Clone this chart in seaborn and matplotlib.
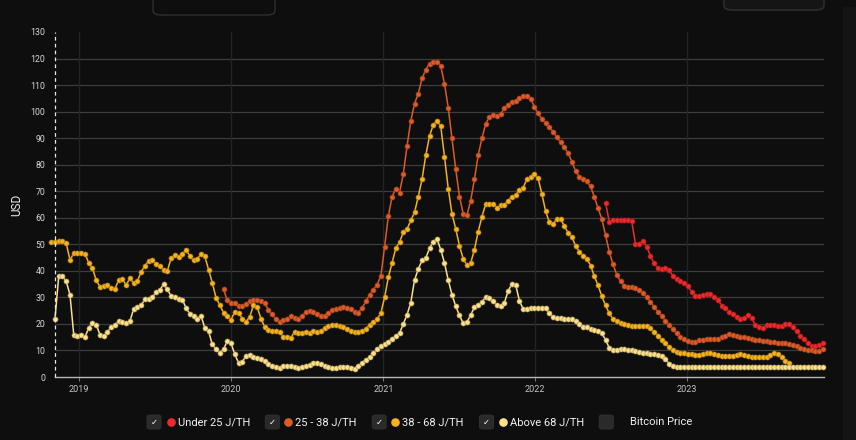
import matplotlib
matplotlib.use("Agg")
import matplotlib.pyplot as plt
from matplotlib.patches import FancyBboxPatch, Rectangle
from matplotlib.lines import Line2D
import numpy as np
import pandas as pd
import seaborn as sns

# weekly-ish samples (every 9 days)
dates = pd.date_range("2018-10-26", periods=207, freq="9D")

series_names = ["Under 25 J/TH", "25 - 38 J/TH", "38 - 68 J/TH", "Above 68 J/TH"]
series_colors = ["#ec2a2c", "#dd5b28", "#f4b21f", "#fde08a"]
series_edges = ["#8e1618", "#86361a", "#946a12", "#9a8752"]

# index into `dates` where each series starts
start_under_25 = 148
start_25_38 = 46
start_38_68 = 0
start_above_68 = 1

under_25 = [
    65.7, 58.5, 59, 59.2, 59.2, 59.2, 59.2, 58.6, 50.2, 50,
    51.4, 49, 45.7, 42.8, 41, 40.7, 41.2, 40.3, 38, 36.8,
    36.2, 35.4, 34.2, 32, 30.7, 30.5, 31, 31.4, 31.3, 30.3,
    29.1, 26.9, 25.9, 24.5, 23.8, 22.6, 22, 22.2, 23.4, 22.2,
    19.6, 19, 18.4, 19.6, 19.6, 19.6, 19.4, 19.1, 19.8, 19.9,
    18.8, 17.3, 15.6, 14.2, 12.9, 11.7, 11.7, 12.1, 12.7,
]

j_25_38 = [
    33, 29, 27.8, 27.8, 26.8, 26.6, 27.5, 28.6, 29.2, 29,
    28.5, 27.8, 25.3, 23.6, 21.8, 20.8, 21.3, 22, 22.9, 22.1,
    22, 22.9, 24.5, 25, 24.5, 23.6, 22.8, 22.9, 24.1, 25.1,
    25.7, 26.1, 26.3, 26, 25.6, 24.6, 24.3, 26, 28.5, 30.9,
    32.9, 34.8, 38, 49, 60.5, 68, 71, 69.5, 76.5, 87,
    96.5, 103, 106.8, 112.5, 115.8, 118.1, 118.8, 118.7, 117.2, 110.5,
    101.5, 90, 78.3, 68, 61.5, 61, 66.5, 74.5, 83.6, 90,
    95.4, 98, 98.9, 98.5, 99.2, 101.2, 102.6, 103.5, 104, 105,
    105.7, 105.9, 104.9, 101.8, 99.3, 97.2, 95.8, 94.1, 92.4, 90.4,
    88.5, 86.5, 84.4, 81.2, 77.6, 75.5, 74.7, 73.7, 71.8, 68,
    63.6, 59.6, 53.5, 47.2, 42.4, 38.6, 36, 34.4, 33.8, 33.8,
    33.5, 32.8, 31.7, 30.2, 28.3, 26.3, 24.6, 23.1, 21.2, 19.7,
    18, 16.4, 15.2, 14.2, 13.4, 13.1, 13.3, 13.9, 14.1, 14.2,
    14.2, 14.2, 14.5, 15, 15.6, 16.1, 15.7, 15.4, 15.1, 15,
    14.8, 14.5, 14.1, 13.9, 13.7, 13.5, 13.3, 13.1, 12.9, 12.9,
    12.7, 12.4, 11.9, 11.5, 11, 10.4, 10.2, 10, 9.9, 9.9, 10.4,
]

j_38_68 = [
    51, 51, 51.2, 51.4, 50.4, 44.1, 46.6, 46.8, 46.6, 46.5,
    43, 41, 36.5, 34, 34.2, 34.5, 33.7, 33.2, 36.5, 36.8,
    34.7, 37.2, 35.4, 36.2, 39.5, 42, 43.6, 44, 42.5, 41.8,
    40.5, 40, 44.7, 46, 45.3, 46.2, 48, 45.5, 44, 44.5,
    46.3, 45.5, 40.5, 35.5, 29.8, 27.1, 24.3, 22.8, 21.6, 24.5,
    24.3, 22, 20.8, 22.7, 27, 26.2, 22, 18.8, 17.6, 17.4,
    17.2, 16.8, 15.2, 15.2, 14.8, 17.1, 16.6, 16.5, 16.8, 16.5,
    17.3, 16.8, 17.2, 18.5, 19.3, 19.6, 19.6, 19.2, 18.8, 18.2,
    17.5, 16.9, 17, 17.4, 18.2, 19.6, 20.6, 21.8, 24, 30,
    37.5, 43, 48.5, 50.8, 54.5, 55.7, 59, 62, 68, 74.5,
    83.5, 90.8, 95, 96.5, 94.5, 83, 71, 61.5, 55.8, 49.5,
    44.5, 42.2, 43, 48, 54.8, 60.4, 65.2, 65.3, 65, 63.8,
    64.8, 64.8, 66.5, 67.8, 68.5, 70.5, 71.3, 74.5, 75.5, 76.5,
    74.8, 69, 62.5, 58.3, 57.6, 59.6, 59.4, 57, 54.3, 52.8,
    49.5, 47.2, 45.7, 44.6, 42, 38, 34.5, 30.5, 27, 24,
    21.8, 21, 20.3, 20, 19.6, 19.3, 19.2, 19.2, 19.2, 19.1,
    18.4, 17.1, 15.6, 14, 12.7, 11.4, 10.2, 9.6, 9.1, 8.9,
    8.7, 8.5, 8.4, 8.3, 8.6, 9, 9.1, 8.7, 8.3, 8,
    8, 8, 8, 8.3, 8.6, 8.4, 8, 7.7, 7.5, 7.4,
    7.4, 7.6, 8.3, 9.2, 8.6, 7.5, 6.2, 5.2,
]

above_68 = [
    22, 38, 38, 36, 31, 16, 15.5, 16, 15, 18.5,
    20.5, 19.7, 16, 15.5, 16.8, 19, 19.5, 21, 20.7, 20.2,
    21, 25.6, 26.3, 27, 29.3, 29.4, 30, 32, 32.8, 35,
    33, 30.5, 30, 29.3, 29.2, 26, 23.8, 22.9, 22, 23,
    18.5, 17.2, 12.3, 10.5, 9, 10.5, 13.5, 12.8, 8.5, 5.4,
    5.7, 8, 8.3, 7.7, 7.2, 6.8, 5.9, 5, 4.3, 3.8,
    3.5, 4, 4.1, 4, 3.6, 3.3, 3.8, 4.2, 4.6, 5.2,
    5.4, 5, 4.3, 3.9, 3.4, 3.5, 3.7, 3.9, 3.7, 3.4,
    3.2, 4.1, 5.4, 6.5, 7.5, 8.9, 10.4, 11.5, 12.3, 13.3,
    14.3, 15.5, 16.5, 20, 23.5, 28, 36.5, 40.7, 43.9, 44.8,
    48.5, 51, 52, 48, 43, 36.5, 31, 26.7, 23.2, 20.2,
    20.6, 23.5, 26.2, 27.3, 28.2, 30.2, 29.7, 28.5, 27.2, 26.8,
    28, 32.5, 35, 34.7, 28.8, 25.6, 25.8, 25.9, 25.9, 25.9,
    25.9, 25.9, 24, 22.5, 22.1, 22.4, 22, 21.7, 22, 21,
    20, 19, 18.7, 18.2, 17.7, 17.2, 16.5, 14, 11, 10,
    10.2, 10.4, 10.4, 10.3, 10, 9.8, 9.4, 9.2, 8.9, 8.8,
    8.6, 8.4, 8, 6.8, 5, 4,
    3.9, 3.9, 3.9, 3.9, 3.9, 3.9, 3.9, 3.9, 3.9, 3.9,
    3.9, 3.9, 3.9, 3.9, 3.9, 3.9, 3.9, 3.9, 3.9, 3.9,
    3.9, 3.9, 3.9, 3.9, 3.9, 3.9, 3.9, 3.9, 3.9, 3.9,
    3.9, 3.9, 3.9, 3.9, 3.9, 3.9, 3.9, 3.9, 3.9, 3.9,
]

y_ticks = list(range(0, 131, 10))
year_ticks = ["2019", "2020", "2021", "2022", "2023"]

frames = []
for name, start, vals in zip(series_names,
                             [start_under_25, start_25_38, start_38_68, start_above_68],
                             [under_25, j_25_38, j_38_68, above_68]):
    frames.append(pd.DataFrame({"date": dates[start:start + len(vals)],
                                "usd": vals, "series": name}))
df = pd.concat(frames, ignore_index=True)

sns.set_theme(style="dark")
plt.rcParams["font.family"] = ["Roboto", "DejaVu Sans"]

BG = "#0e0e0e"
W, H = 856, 440
fig = plt.figure(figsize=(W / 100, H / 100), dpi=100, facecolor=BG)


def fx(x):
    return x / W


def fy(y):
    return 1 - y / H


ax = fig.add_axes([fx(55), fy(377), (824 - 55) / W, (377 - 32) / H])
ax.set_facecolor(BG)

for v in y_ticks[1:-1]:
    ax.axhline(v, color="#3d3d3d", lw=0.9, zorder=0)
for yr in year_ticks:
    ax.axvline(pd.Timestamp(yr + "-01-01"), color="#242424", lw=1, zorder=0)

for name, color, edge in zip(series_names, series_colors, series_edges):
    sns.lineplot(data=df[df.series == name], x="date", y="usd", color=color,
                 marker="o", markersize=3.7, markeredgecolor=edge,
                 markeredgewidth=0.4, linewidth=1.1, ax=ax, legend=False,
                 clip_on=False, zorder=3)

ax.axvline(dates[start_above_68], color="#e8e8e8", lw=0.9, ls=(0, (3, 2.5)),
           clip_on=False, zorder=4)

ax.set_xlim(pd.Timestamp("2018-11-04"), pd.Timestamp("2023-11-26"))
ax.set_ylim(0, 130)
ax.set_yticks(y_ticks)
ax.set_xticks([pd.Timestamp(y + "-01-01") for y in year_ticks])
ax.set_xticklabels(year_ticks)
ax.set_xlabel("")
ax.set_ylabel("USD", color="#ececec", fontsize=8.5, labelpad=5)
ax.tick_params(axis="y", length=0, pad=7, labelsize=6.3, labelcolor="#d6d6d6")
ax.tick_params(axis="x", length=3, width=0.8, color="#777777", pad=3,
               labelsize=6.5, labelcolor="#c4c4c4", bottom=True)
for s in ["top", "right", "left"]:
    ax.spines[s].set_visible(False)
ax.spines["bottom"].set_color("#b8b8b8")
ax.spines["bottom"].set_linewidth(1)
ax.grid(False)

# top toolbar remnants and right-hand strip
fig.add_artist(FancyBboxPatch((fx(153), fy(15)), (275 - 153) / W, 30 / H,
                              boxstyle="round,pad=0,rounding_size=0.01",
                              transform=fig.transFigure, facecolor=BG,
                              edgecolor="#2f2f2f", lw=1))
fig.add_artist(FancyBboxPatch((fx(724), fy(10)), (824 - 724) / W, 30 / H,
                              boxstyle="round,pad=0,rounding_size=0.01",
                              transform=fig.transFigure, facecolor="#151515",
                              edgecolor="#2c2c2c", lw=1.2))
fig.add_artist(Rectangle((fx(843), 0), (W - 843) / W, fy(7),
                         transform=fig.transFigure, facecolor="#141414",
                         edgecolor="none"))

# legend with checkboxes
legend_y = 422
box_x = [154, 272.3, 379.2, 486.5, 606.2]
dot_x = [170.8, 288.3, 395, 502.9]
text_x = [177.5, 295, 402.5, 510.4, 630]
labels = series_names + ["Bitcoin Price"]
for i, lab in enumerate(labels):
    fig.add_artist(FancyBboxPatch((fx(box_x[i] - 7), fy(legend_y + 7)), 14 / W, 14 / H,
                                  boxstyle="round,pad=0,rounding_size=0.004",
                                  transform=fig.transFigure, facecolor="#2a2a2a",
                                  edgecolor="#333333", lw=0.6))
    if i < 4:
        fig.text(fx(box_x[i]), fy(legend_y), "\u2713", color="white", fontsize=6,
                 ha="center", va="center", family=["DejaVu Sans"], weight="bold")
        fig.add_artist(Line2D([fx(dot_x[i])], [fy(legend_y)], marker="o",
                              markersize=5.2, color=series_colors[i], lw=0,
                              transform=fig.transFigure))
    fig.text(fx(text_x[i]), fy(legend_y), lab, color="#f2f2f2", fontsize=8,
             ha="left", va="center")

fig.savefig("out.png", dpi=100, facecolor=BG)
